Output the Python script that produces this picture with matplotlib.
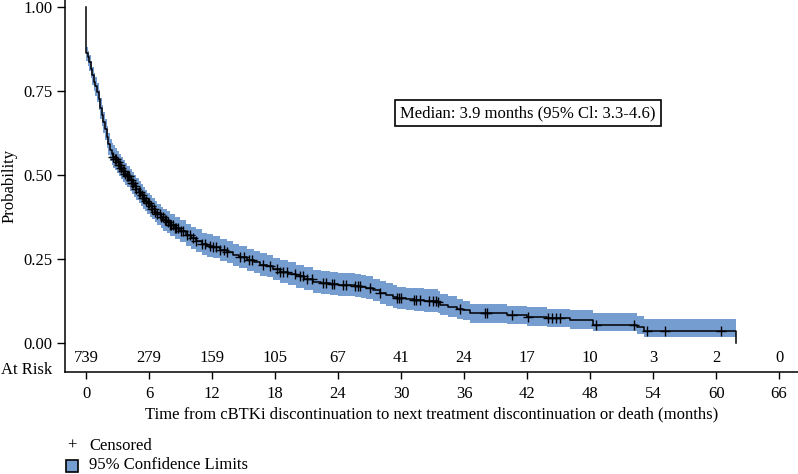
import numpy as np
import matplotlib
matplotlib.use("Agg")
import matplotlib.pyplot as plt
from matplotlib.patches import Rectangle

plt.rcParams['font.family'] = ['Liberation Serif', 'DejaVu Serif']

# Kaplan-Meier step data (time in months, survival probability, 95% CI)
km_time = [0, 0.02, 0.15, 0.3, 0.45, 0.6, 0.75, 0.9, 1.05, 1.2, 1.35, 1.5, 1.65, 1.8, 1.97,
           2.13, 2.29, 2.45, 2.6, 2.76, 2.92, 3.1, 3.3, 3.5, 3.7, 3.9, 4.19, 4.4, 4.6, 4.8,
           5.0, 5.2, 5.4, 5.6, 5.8, 6.05, 6.3, 6.55, 6.8, 7.1, 7.36, 7.7, 8.0,
           8.5, 8.95, 9.5, 10.0, 10.5, 11.0, 11.5, 12.1,
           12.8, 13.4, 14.0, 14.6, 15.3, 16.0, 16.6, 17.2, 17.8, 18.5, 19.2, 20.0, 20.8, 21.6,
           22.4, 23.2, 24.0, 24.8, 25.6, 26.2, 26.7, 27.3, 28.0, 28.6, 29.2, 29.6, 30.5, 31.2,
           32.2, 33.5, 33.7, 34.5, 35.3, 35.9, 36.6, 40.1, 42.0, 43.9, 46.1, 48.3, 52.5, 53.1,
           61.9]
km_surv = [1.00, 0.862, 0.850, 0.835, 0.815, 0.797, 0.778, 0.765, 0.748, 0.725, 0.700, 0.678,
           0.657, 0.636, 0.614, 0.592, 0.574, 0.563, 0.555, 0.547, 0.540, 0.530, 0.520, 0.511,
           0.503, 0.496, 0.485, 0.477, 0.468, 0.459, 0.450, 0.441, 0.432, 0.424, 0.416, 0.408,
           0.400, 0.391, 0.383, 0.374, 0.366, 0.359, 0.352,
           0.342, 0.334, 0.322, 0.313, 0.305, 0.295, 0.290, 0.285,
           0.277, 0.270, 0.262, 0.255, 0.247, 0.240,
           0.233, 0.228, 0.220, 0.212, 0.206, 0.198, 0.191, 0.183, 0.178, 0.176, 0.174, 0.172,
           0.170, 0.167, 0.163, 0.157, 0.150, 0.143, 0.138, 0.134, 0.131, 0.129, 0.126, 0.122,
           0.114, 0.108, 0.102, 0.097, 0.089, 0.083, 0.078, 0.073, 0.067, 0.055, 0.047, 0.037,
           0.0]
ci_lower = [1.00, 0.840, 0.826, 0.810, 0.788, 0.769, 0.749, 0.735, 0.717, 0.694, 0.668, 0.646,
            0.624, 0.603, 0.581, 0.559, 0.541, 0.530, 0.522, 0.514, 0.507, 0.498, 0.488, 0.479,
            0.471, 0.464, 0.453, 0.445, 0.436, 0.427, 0.418, 0.409, 0.400, 0.392, 0.384, 0.376,
            0.368, 0.359, 0.350, 0.341, 0.333, 0.326, 0.319,
            0.309, 0.301, 0.289, 0.280, 0.272, 0.262, 0.257, 0.252,
            0.244, 0.237, 0.229, 0.222, 0.214, 0.207,
            0.200, 0.195, 0.187, 0.179, 0.173, 0.165, 0.158, 0.150, 0.145, 0.143, 0.141, 0.139,
            0.137, 0.134, 0.130, 0.124, 0.117, 0.110, 0.105, 0.101, 0.098, 0.096, 0.093, 0.089,
            0.082, 0.077, 0.072, 0.068, 0.061, 0.056, 0.052, 0.047, 0.043, 0.035, 0.028, 0.019,
            0.019]
ci_upper = [1.00, 0.880, 0.870, 0.857, 0.838, 0.821, 0.803, 0.791, 0.775, 0.753, 0.729, 0.708,
            0.688, 0.668, 0.647, 0.625, 0.607, 0.596, 0.588, 0.580, 0.573, 0.563, 0.553, 0.544,
            0.535, 0.528, 0.517, 0.509, 0.500, 0.491, 0.482, 0.473, 0.464, 0.456, 0.448, 0.440,
            0.432, 0.423, 0.415, 0.406, 0.398, 0.392, 0.385,
            0.375, 0.367, 0.355, 0.346, 0.338, 0.328, 0.323, 0.318,
            0.311, 0.304, 0.296, 0.289, 0.281, 0.274,
            0.267, 0.262, 0.254, 0.247, 0.241, 0.233, 0.226, 0.218, 0.213, 0.211, 0.209, 0.207,
            0.205, 0.202, 0.198, 0.192, 0.185, 0.178, 0.172, 0.168, 0.165, 0.163, 0.160, 0.156,
            0.146, 0.139, 0.132, 0.126, 0.117, 0.111, 0.106, 0.101, 0.097, 0.088, 0.079, 0.071,
            0.071]

# Censored observation times (months)
censor_times = [2.6, 2.8, 2.9, 3.0, 3.1, 3.2, 3.35, 3.5, 3.6, 3.75, 3.9, 4.0, 4.1, 4.3, 4.4,
                4.5, 4.7, 4.8, 5.0, 5.1, 5.3, 5.4, 5.5, 5.7, 5.9, 6.0, 6.2, 6.3, 6.5, 6.6, 6.8,
                7.0, 7.1, 7.3, 7.5, 7.6, 7.8, 8.0, 8.1, 8.3, 8.5, 8.6, 8.8, 9.0, 9.27, 9.59, 9.9,
                10.2, 10.5, 11.0, 11.3, 11.8, 12.1, 12.4, 12.8, 13.1, 13.4, 14.7, 15.0, 15.5,
                15.8, 16.9, 17.5, 18.2, 18.5, 18.8, 19.1, 19.9, 20.4, 20.7, 21.0, 21.5, 22.6,
                22.9, 23.4, 23.6, 24.5, 24.8, 25.6, 25.9, 26.1, 27.0, 28.0, 29.6, 29.8, 30.0,
                31.2, 31.4, 31.8, 32.7, 33.0, 33.3, 33.5, 35.6, 38.0, 38.2, 40.6, 42.1, 44.0,
                44.4, 44.8, 45.1, 48.6, 52.2, 53.4, 55.1, 60.5]

risk_times = [0, 6, 12, 18, 24, 30, 36, 42, 48, 54, 60, 66]
risk_counts = [739, 279, 159, 105, 67, 41, 24, 17, 10, 3, 2, 0]

median_text = "Median: 3.9 months (95% Cl: 3.3-4.6)"

FS = 12
W, H = 798, 474
fig = plt.figure(figsize=(W / 100, H / 100), dpi=100)
ax = fig.add_axes([65 / W, (H - 372) / H, (W - 65) / W, 372 / H])

band_color = '#769dd0'
t = np.array(km_time)
s = np.array(km_surv)
ax.fill_between(t[1:], np.array(ci_lower)[1:], np.array(ci_upper)[1:], step='post',
                color=band_color, lw=0, zorder=1)
ax.plot(t, s, drawstyle='steps-post', color='black', lw=1.1, zorder=3)

ct = np.array(censor_times)
idx = np.searchsorted(t, ct, side='right') - 1
ax.plot(ct, s[idx], linestyle='none', marker='+', color='black', ms=7, mew=1.0, zorder=4)

for rt, rc in zip(risk_times, risk_counts):
    ax.text(rt, -0.0446, str(rc), ha='center', va='center', fontsize=FS, color='black')

ax.set_xlim(-2.0, 67.8)
ax.set_ylim(-0.0863, 1.021)
ax.set_xticks(risk_times)
ax.set_yticks([0.0, 0.25, 0.5, 0.75, 1.0])
ax.set_yticklabels(['0.00', '0.25', '0.50', '0.75', '1.00'])
ax.tick_params(axis='both', labelsize=FS, direction='out', color='black')
ax.tick_params(axis='y', length=6, width=1, pad=3)
ax.tick_params(axis='x', length=5, width=1, pad=5)
for side in ['top', 'right']:
    ax.spines[side].set_visible(False)
for side in ['left', 'bottom']:
    ax.spines[side].set_linewidth(1.1)

ax.set_xlabel('Time from cBTKi discontinuation to next treatment discontinuation or death (months)',
              fontsize=FS, labelpad=3)
ax.set_ylabel('Probability', fontsize=FS, labelpad=4)

ax.text(42.1, 0.684, median_text, ha='center', va='center', fontsize=FS,
        bbox=dict(boxstyle='square,pad=0.3', facecolor='white', edgecolor='black', lw=1.2),
        zorder=5)

fig.text(52 / W, 1 - 370 / H, 'At Risk', ha='right', va='center', fontsize=FS)

# Legend
fig.text(72 / W, 1 - 446 / H, '+', ha='center', va='center', fontsize=FS)
fig.text(89 / W, 1 - 446 / H, 'Censored', ha='left', va='center', fontsize=FS)
fig.patches.append(Rectangle((66 / W, 1 - 472 / H), 12 / W, 12 / H, transform=fig.transFigure,
                             facecolor=band_color, edgecolor='black', lw=1.2))
fig.text(89 / W, 1 - 465 / H, '95% Confidence Limits', ha='left', va='center', fontsize=FS)

fig.savefig('out.png', dpi=100)
